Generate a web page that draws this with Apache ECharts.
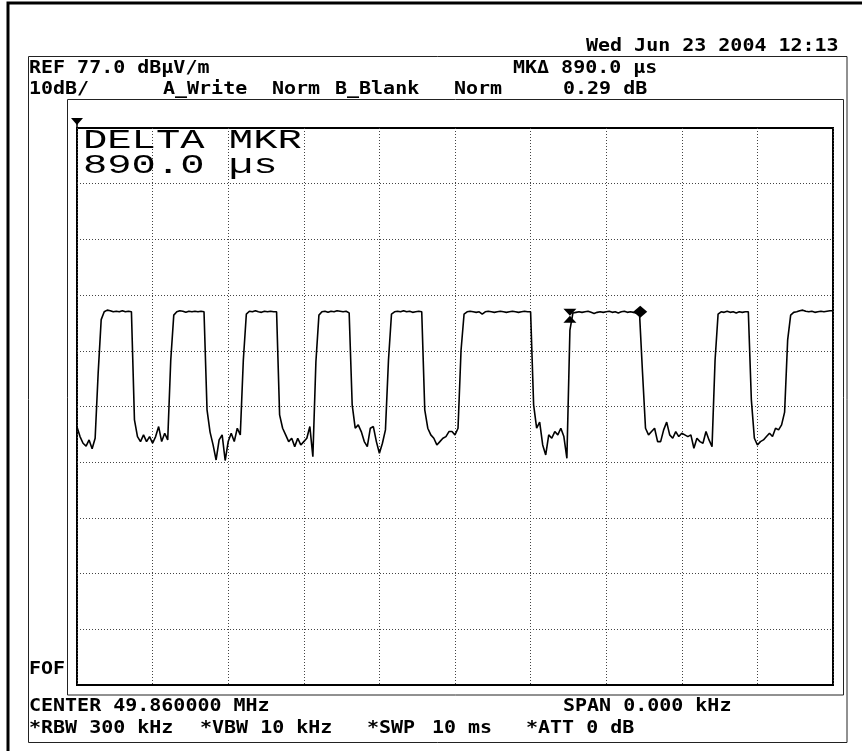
<!DOCTYPE html>
<html>
<head>
<meta charset="utf-8">
<script src="https://cdn.jsdelivr.net/npm/echarts@6/dist/echarts.min.js"></script>
<style>
html,body{margin:0;padding:0;background:#fff;}
#chart{width:862px;height:751px;}
</style>
</head>
<body>
<div id="chart"></div>
<script>
// ---- data ----
// sweep: 0..10 ms, one sample every 0.04 ms; levels in dBµV/m
const sweepMs = [0, 10];
const sampleStepMs = 0.04;
const refLevelDb = 77.0;
const dbPerDiv = 10;
const levelGridDb = [67, 57, 47, 37, 27, 17, 7, -3, -13];

const level0to2ms = [
  23.3, 21.6, 20.4, 19.9, 21.0, 19.4, 21.3, 33.0, 42.6, 44.0,
  44.3, 44.2, 44.0, 44.1, 44.0, 44.2, 44.0, 44.1, 44.0, 24.6,
  21.6, 20.7, 21.9, 20.7, 21.6, 20.4, 21.6, 23.4, 20.7, 22.2,
  21.0, 35.3, 43.4, 44.0, 44.2, 44.1, 43.9, 44.1, 44.0, 44.1,
  44.0, 44.1, 44.0, 26.4, 22.4, 20.1, 17.4, 21.0, 21.9, 17.3
];
const level2to4ms = [
  20.7, 22.2, 20.7, 23.1, 21.9, 35.3, 43.6, 44.1, 44.0, 44.2,
  44.0, 43.9, 44.1, 44.0, 44.1, 44.0, 44.0, 25.5, 23.1, 21.9,
  20.7, 21.3, 19.8, 21.3, 20.1, 20.7, 21.3, 23.4, 18.0, 35.0,
  43.4, 44.0, 44.1, 43.9, 44.1, 44.0, 44.2, 44.1, 44.0, 44.1,
  43.8, 27.3, 23.1, 23.7, 22.5, 20.7, 19.8, 23.1, 23.4, 20.7
];
const level4to6ms = [
  18.6, 20.4, 22.8, 35.3, 43.6, 44.0, 44.1, 44.0, 44.2, 44.0,
  44.1, 43.9, 44.0, 44.1, 44.0, 26.4, 23.1, 21.9, 21.3, 20.1,
  20.7, 21.3, 21.6, 22.5, 22.5, 21.9, 23.1, 37.1, 43.6, 44.0,
  44.1, 44.0, 43.9, 44.0, 43.6, 44.0, 44.1, 44.0, 43.9, 44.0,
  44.1, 44.0, 43.9, 44.0, 44.1, 44.0, 43.9, 44.0, 44.1, 44.0
];
const level6to8ms = [
  44.0, 27.3, 23.1, 24.2, 20.1, 18.3, 21.9, 21.3, 22.5, 21.9,
  23.1, 21.6, 17.7, 40.7, 43.8, 43.9, 44.0, 43.9, 44.0, 44.1,
  43.9, 43.7, 43.9, 44.0, 43.9, 44.0, 44.1, 43.9, 44.0, 43.8,
  44.0, 44.1, 43.9, 44.0, 43.9, 43.8, 43.9, 33.2, 23.1, 21.9,
  22.5, 23.1, 20.7, 20.7, 22.8, 24.2, 21.9, 21.3, 22.5, 21.6
];
const level8to10ms = [
  22.2, 21.9, 21.6, 21.9, 19.5, 21.3, 20.7, 20.4, 22.5, 21.0,
  19.8, 35.3, 43.6, 44.0, 43.9, 44.1, 43.9, 44.0, 43.8, 44.0,
  43.9, 44.0, 44.0, 28.2, 21.3, 20.1, 20.7, 21.0, 21.6, 22.2,
  21.6, 23.1, 22.8, 23.7, 26.0, 38.9, 43.4, 43.9, 44.0, 44.2,
  44.3, 44.1, 44.0, 44.1, 43.9, 44.0, 44.1, 44.0, 44.1, 44.2,
  44.2
];

// delta marker pair (time ms, level dB)
const markerRefMs = 6.52;
const markerDeltaMs = 7.45;
const markerLevelDb = 44.0;

// ---- build the table the library needs ----
const allLevels = [].concat(level0to2ms, level2to4ms, level4to6ms, level6to8ms, level8to10ms);
const trace = allLevels.map((v, i) => [Math.round(i * sampleStepMs * 1000) / 1000, v]);

const MONO = "'DejaVu Sans Mono', 'Liberation Mono', monospace";
const SX = 1.11;
function txt(s, x, y, opts) {
  opts = opts || {};
  return {
    type: 'text', x: x, y: y, scaleX: opts.sx || SX, scaleY: opts.sy || 1, z: 100,
    style: {
      text: s, fill: '#000',
      font: (opts.weight || 'bold') + ' ' + (opts.size || 18) + 'px ' + (opts.family || MONO),
      textAlign: 'left', textVerticalAlign: 'middle', align: 'left', verticalAlign: 'middle'
    }
  };
}

const chart = echarts.init(document.getElementById('chart'), null, {renderer: 'canvas'});
const dotted = {color: '#444', width: 1, type: [1, 2]};
const BIG = "'Liberation Mono', 'DejaVu Sans Mono', monospace";

chart.setOption({
  backgroundColor: '#fff',
  animation: false,
  grid: {left: 77, top: 128, width: 756, height: 557, show: true, borderColor: '#000', borderWidth: 2, backgroundColor: 'transparent'},
  xAxis: {
    type: 'value', min: sweepMs[0], max: sweepMs[1], interval: 1,
    axisLine: {show: false}, axisTick: {show: false}, axisLabel: {show: false},
    splitLine: {show: true, lineStyle: dotted}
  },
  yAxis: {
    type: 'value', min: refLevelDb - 10 * dbPerDiv, max: refLevelDb,
    axisLine: {show: false}, axisTick: {show: false}, axisLabel: {show: false},
    splitLine: {show: false}
  },
  series: [
    {
      type: 'line', data: [], z: 1, silent: true,
      markLine: {
        silent: true, symbol: 'none', animation: false,
        label: {show: false}, lineStyle: dotted,
        data: levelGridDb.map(v => ({yAxis: v}))
      }
    },
    {
      type: 'line', data: trace, z: 5, showSymbol: false, symbol: 'none',
      lineStyle: {color: '#000', width: 1.6}, silent: true,
      markPoint: {
        silent: true, animation: false, label: {show: false},
        data: [
          {coord: [markerRefMs, markerLevelDb], symbol: 'path://M0,0 L14,0 L7,7 L14,14 L0,14 L7,7 Z', symbolSize: [13, 14], symbolOffset: [0, 4], itemStyle: {color: '#000'}},
          {coord: [markerDeltaMs, markerLevelDb], symbol: 'diamond', symbolSize: [14, 12], itemStyle: {color: '#000'}}
        ]
      }
    }
  ],
  graphic: [
    {type: 'rect', shape: {x: 8, y: 3, width: 900, height: 800}, style: {fill: 'none', stroke: '#000', lineWidth: 3}, z: 50},
    {type: 'rect', shape: {x: 28.5, y: 56.5, width: 818.5, height: 686}, style: {fill: 'none', stroke: '#222', lineWidth: 1}, z: 50},
    {type: 'rect', shape: {x: 67.5, y: 99.5, width: 776, height: 595.5}, style: {fill: 'none', stroke: '#222', lineWidth: 1}, z: 50},
    {type: 'polygon', shape: {points: [[71, 118], [83, 118], [77, 125]]}, style: {fill: '#000'}, z: 50},
    {type: 'line', shape: {x1: 77, y1: 118, x2: 77, y2: 128}, style: {stroke: '#000', lineWidth: 1.5}, z: 50},

    txt('Wed Jun 23 2004 12:13', 586, 46),
    txt('REF 77.0 dBµV/m', 29, 68),
    txt('MKΔ 890.0 µs', 513, 68),
    txt('10dB/', 29, 89),
    txt('A_Write', 163, 89),
    txt('Norm', 272, 89),
    txt('B_Blank', 335, 89),
    txt('Norm', 454, 89),
    txt('0.29 dB', 563, 89),
    txt('FOF', 29, 669),
    txt('CENTER 49.860000 MHz', 29, 706),
    txt('SPAN 0.000 kHz', 563, 706),
    txt('*RBW 300 kHz', 29, 728),
    txt('*VBW 10 kHz', 200, 728),
    txt('*SWP', 367, 728),
    txt('10 ms', 432, 728),
    txt('*ATT 0 dB', 526, 728),

    txt('DELTA MKR', 83, 141, {size: 27, sx: 1.5, weight: 'normal', family: BIG}),
    txt('890.0 µs', 83, 166, {size: 27, sx: 1.5, weight: 'normal', family: BIG})
  ]
});
</script>
</body>
</html>
